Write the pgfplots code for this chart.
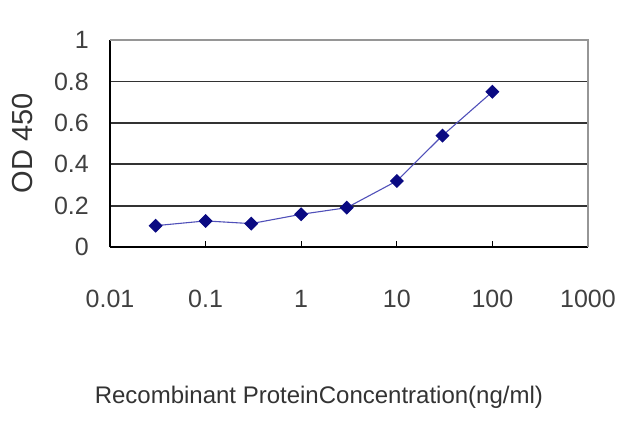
\documentclass[border=0pt]{standalone}
\usepackage{pgfplots}
\pgfplotsset{compat=1.18}
\usepackage{fontspec}
\setmainfont{Liberation Sans}
\definecolor{linecol}{RGB}{80,80,185}
\definecolor{markcol}{RGB}{10,10,130}
\definecolor{gridcol}{RGB}{50,50,50}
\definecolor{framecol}{RGB}{150,150,150}
\begin{document}
\begin{tikzpicture}
\useasboundingbox (-110bp,-180bp) rectangle (530bp,247bp);
\begin{axis}[
  at={(0,0)}, anchor=south west,
  scale only axis, width=478bp, height=207bp,
  xmode=log, xmin=0.01, xmax=1000,
  ymin=0, ymax=1,
  axis lines*=left,
  axis line style={-, black, line width=1.6bp},
  xtick={0.01,0.1,1,10,100,1000},
  xticklabels={0.01,0.1,1,10,100,1000},
  ytick={0,0.2,0.4,0.6,0.8,1},
  yticklabels={0,0.2,0.4,0.6,0.8,1},
  xminorticks=false,
  x tick style={black, line width=1bp},
  xtick pos=bottom, xtick align=inside,
  major tick length=6bp,
  y tick style={draw=none},
  ymajorgrids,
  major grid style={gridcol, line width=1.8bp},
  tick label style={font=\fontsize{25bp}{29bp}\selectfont, text=black!75},
  xticklabel style={anchor=north, inner sep=0pt, yshift=-43bp},
  yticklabel style={anchor=east, inner sep=0pt, xshift=-21bp},
  label style={text=black!80},
  xlabel={Recombinant ProteinConcentration(ng/ml)},
  ylabel={OD 450},
  x label style={font=\fontsize{24bp}{28bp}\selectfont, at={(axis description cs:0.437,-0.725)}, anchor=center},
  y label style={font=\fontsize{29bp}{33bp}\selectfont, at={(axis description cs:-0.183,0.50)}, anchor=center, rotate=0},
  clip=false,
]
\addplot[color=linecol, line width=1.1bp, mark=square*, mark size=4.4bp,
  mark options={fill=markcol, draw=markcol, rotate=45}]
  coordinates {
  (0.03,0.103) (0.1,0.126) (0.3,0.113) (1,0.158) (3,0.19)
  (10,0.319) (30,0.538) (100,0.75)
  };
\draw[framecol, line width=1.6bp] (rel axis cs:0,1) -- (rel axis cs:1,1) -- (rel axis cs:1,0);
\end{axis}
\end{tikzpicture}
\end{document}
